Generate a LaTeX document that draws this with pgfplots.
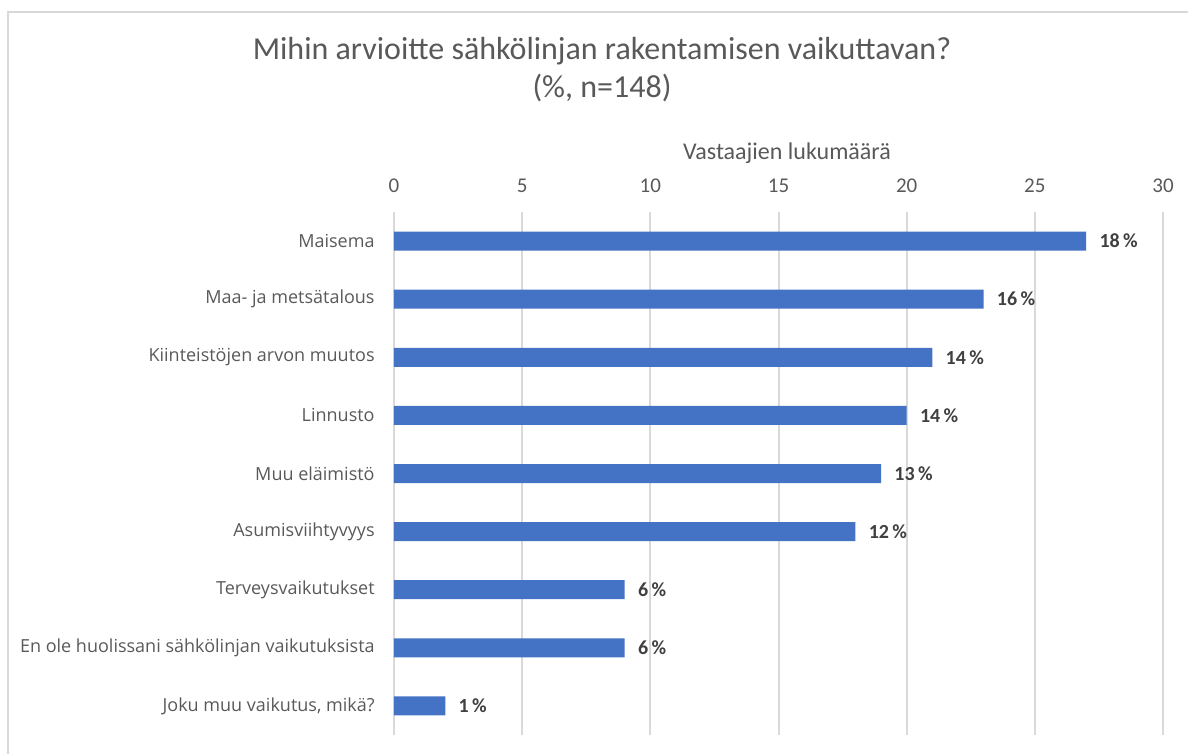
\documentclass[border=0pt]{standalone}
\usepackage{fontspec}
\setmainfont{Carlito}
\newfontfamily\catfont{Open Sans}
\usepackage{pgfplots}
\pgfplotsset{compat=1.18}
\definecolor{barc}{RGB}{68,114,196}
\definecolor{txt}{RGB}{89,89,89}
\definecolor{gridc}{RGB}{217,217,217}
\definecolor{lab}{RGB}{64,64,64}
\begin{document}
\begin{tikzpicture}
\useasboundingbox (-197pt,-9.5pt) rectangle (397pt,367.5pt);
\draw[gridc, line width=1pt] (-193pt,-9.5pt) -- (-193pt,361.5pt) -- (397pt,361.5pt);
\node[txt, anchor=base, font=\fontsize{16}{19}\selectfont] at (104pt,337.5pt) {Mihin arvioitte sähkölinjan rakentamisen vaikuttavan?};
\node[txt, anchor=base, font=\fontsize{16}{19}\selectfont] at (104pt,318.5pt) {(\%, n=148)};
\begin{axis}[
  at={(0,0)}, anchor=south west,
  width=384.5pt, height=261.5pt, scale only axis,
  xbar, bar width=9.5pt,
  xmin=0, xmax=30, ymin=-0.5, ymax=8.5,
  axis line style={draw=none},
  xtick={0,5,...,30}, xticklabel pos=upper,
  xmajorgrids, grid style={gridc, line width=1pt},
  major tick length=0pt,
  xticklabel style={font=\fontsize{10.5}{12}\selectfont, text=txt, anchor=base, inner sep=0pt, yshift=9.75pt},
  /pgf/number format/assume math mode=true,
  xlabel={Vastaajien lukumäärä},
  xlabel style={at={(axis description cs:0.511,1)}, anchor=base, inner sep=0pt, yshift=26.25pt, font=\fontsize{12}{14}\selectfont, text=txt},
  ytick={0,...,8},
  yticklabels={{Joku muu vaikutus, mikä?}, En ole huolissani sähkölinjan vaikutuksista, Terveysvaikutukset, Asumisviihtyvyys, Muu eläimistö, Linnusto, Kiinteistöjen arvon muutos, Maa- ja metsätalous, Maisema},
  yticklabel style={font=\catfont\fontsize{9}{11}\selectfont, text=txt, anchor=east, inner sep=0pt, xshift=-9.5pt},
  nodes near coords, point meta=explicit symbolic,
  nodes near coords style={font=\bfseries\fontsize{10}{12}\selectfont, text=lab, anchor=west, inner sep=0pt, xshift=6.5pt},
]
\addplot[fill=barc, draw=none] coordinates {
  (2,0) [1\,\%]
  (9,1) [6\,\%]
  (9,2) [6\,\%]
  (18,3) [12\,\%]
  (19,4) [13\,\%]
  (20,5) [14\,\%]
  (21,6) [14\,\%]
  (23,7) [16\,\%]
  (27,8) [18\,\%]
};
\end{axis}
\end{tikzpicture}
\end{document}
